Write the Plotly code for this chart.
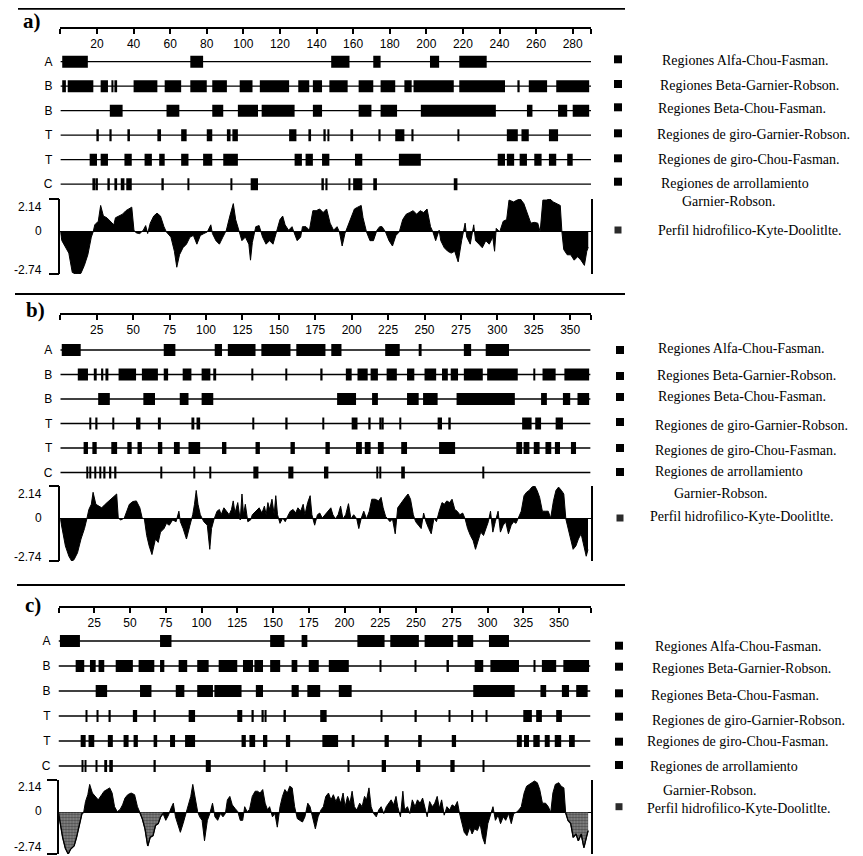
import plotly.graph_objects as go

# The page body keeps the browser's default 8 px margin, so the figure is made
# 8 px smaller and every reference pixel position is measured from that offset.
PAGE_W, PAGE_H = 863, 856
OFF = 8
W, H = PAGE_W - OFF, PAGE_H - OFF

# ---------------- data ----------------
ROW_LETTERS = ["A", "B", "B", "T", "T", "C"]
LEGEND_LINES = [
    "Regiones Alfa-Chou-Fasman.",
    "Regiones Beta-Garnier-Robson.",
    "Regiones Beta-Chou-Fasman.",
    "Regiones de giro-Garnier-Robson.",
    "Regiones de giro-Chou-Fasman.",
    "Regiones de arrollamiento",
    "Garnier-Robson.",
    "Perfil hidrofilico-Kyte-Doolitlte.",
]
PROFILE_TICKS = [2.14, 0, -2.74]

# ----- panel a -----
A_LENGTH = 290
A_TICKS = [20, 40, 60, 80, 100, 120, 140, 160, 180, 200, 220, 240, 260, 280]
A_ALFA_CF = [(1, 15), (71, 78), (148, 158), (171, 175), (202, 207), (218, 233)]
A_BETA_GR = [(1, 3), (4, 18), (22, 26), (28, 29), (30, 31), (40, 53), (57, 66), (71, 80), (83, 91),
             (98, 105), (109, 125), (130, 136), (138, 143), (147, 157), (163, 171), (175, 183),
             (188, 192), (193, 215), (218, 243), (250, 251), (256, 266), (271, 289)]
A_BETA_CF = [(27, 34), (58, 65), (83, 89), (97, 108), (110, 128), (138, 143), (163, 170), (175, 184),
             (197, 238), (255, 258), (272, 277), (280, 289)]
A_GIRO_GR = [(20, 21), (27, 28), (37, 38), (53, 55), (66, 69), (80, 83), (91, 93), (94, 97), (125, 129),
             (136, 137), (144, 145), (146, 147), (159, 160), (174, 175), (183, 188), (192, 193),
             (217, 218), (244, 250), (252, 256), (267, 272)]
A_GIRO_CF = [(16, 20), (22, 26), (35, 39), (46, 50), (54, 57), (66, 70), (78, 83), (89, 97), (128, 132),
             (134, 138), (143, 147), (161, 165), (185, 197), (239, 243), (244, 248), (251, 255),
             (259, 263), (267, 271), (277, 280)]
A_ARROLL_GR = [(18, 19), (19.5, 20.5), (26, 27), (30, 31), (33, 35), (36, 39), (55.5, 56.5), (69.5, 70.5),
               (93, 94), (104, 108), (143, 144), (145, 146), (157.5, 158.5), (160, 165), (171, 173),
               (215, 217)]
A_PROFILE = [
    (0, 0), (0.8, -0.57), (4.6, -1.38), (6.5, -2.64), (8.4, -2.74), (11.2, -2.7), (13.1, -2.18),
    (15.0, -1.49), (16.9, -0.34), (17.9, 0), (18.8, 0.46), (20.7, 0.69), (22.0, 1.72), (23.5, 1.03),
    (25.4, 0.92), (27.3, 0.69), (29.2, 0.46), (30.1, 0.92), (32.0, 1.03), (33.9, 1.15), (35.8, 1.38),
    (37.7, 1.49), (39.0, 1.61), (40.2, 0.11), (41.5, -0.07), (43.4, -0.11), (45.3, 0.11), (46.6, 0.41),
    (47.7, -0.11), (49.1, 0.57), (51.0, 1.03), (52.8, 1.22), (54.7, 1.03), (56.6, 0.34), (57.9, 0),
    (60.4, -0.34), (62.3, -1.26), (63.6, -2.30), (65.1, -1.49), (67.0, -1.03), (68.9, -0.80),
    (70.8, -0.34), (72.7, -0.23), (74.6, -0.80), (76.5, -0.23), (78.4, -0.11), (80.3, 0), (82.2, 0.46),
    (83.1, -0.11), (85.0, -0.57), (86.9, -0.80), (88.8, -0.34), (90.7, 0.11), (92.6, 1.03), (94.5, 1.84),
    (95.8, 0.80), (97.3, 0.11), (99.2, -0.57), (101.1, -0.34), (103.0, -0.80), (103.9, -1.84),
    (104.9, -0.69), (106.8, 0.34), (108.6, 0.41), (110.5, -0.34), (112.4, -0.80), (114.3, -0.57),
    (116.2, -0.80), (118.1, 0), (120.0, 0.80), (121.5, 1.03), (122.8, 0.46), (124.7, 0.11),
    (126.6, 0.34), (127.6, 0), (129.4, -0.57), (131.3, -0.34), (132.3, 0.34), (134.2, 0.34),
    (136.1, 0.11), (138.0, 1.38), (139.8, 1.38), (141.7, 1.49), (143.6, 1.26), (145.5, 1.49),
    (147.4, 0.57), (149.3, 0.11), (151.2, 0.34), (152.5, 0), (154.0, -0.92), (155.5, -0.11),
    (156.9, 0.34), (158.8, 0.92), (160.7, 1.49), (162.5, 1.61), (164.4, 1.72), (165.4, 0.92),
    (167.3, 0), (169.2, -0.57), (171.1, -0.57), (173.0, 0.11), (174.5, 0.34), (175.8, 0.34),
    (177.7, 0), (179.6, -0.57), (181.5, -0.92), (183.4, -0.23), (185.2, 0), (187.1, 0.80),
    (189.0, 1.15), (190.9, 1.26), (192.8, 1.38), (194.7, 1.15), (196.6, 1.38), (198.5, 1.26),
    (200.4, 1.49), (202.3, 0.34), (203.6, 0), (205.1, -0.57), (207.0, 0.11), (207.9, -0.57),
    (209.8, -1.03), (211.7, -1.26), (213.6, -1.38), (215.5, -1.26), (217.4, -1.95), (219.3, -0.57),
    (221.2, 0.57), (222.1, -0.34), (224.0, -0.80), (225.9, 0.46), (226.9, -0.57), (228.8, -0.80),
    (230.6, -1.03), (232.5, -0.57), (234.4, -0.80), (236.3, -0.34), (237.3, -1.26), (238.2, 0.23),
    (240.1, 0), (242.0, 0.69), (243.9, 0.80), (245.2, 2.07), (247.7, 1.95), (249.6, 2.07),
    (251.4, 2.14), (253.3, 1.84), (255.2, 1.26), (257.1, 0.57), (259.0, 0.62), (260.9, 0.57),
    (262.2, 0), (263.7, 2.07), (265.6, 2.07), (267.5, 2.14), (269.4, 1.95), (271.3, 1.84),
    (273.2, 1.72), (274.1, 0), (275.1, -1.15), (277.0, -1.49), (278.9, -1.49), (280.8, -1.84),
    (282.7, -1.61), (284.5, -1.84), (286.4, -2.18), (287.7, -1.26), (288.5, -1.0),
]

# ----- panel b -----
B_LENGTH = 364
B_TICKS = [25, 50, 75, 100, 125, 150, 175, 200, 225, 250, 275, 300, 325, 350]
B_ALFA_CF = [(1, 14), (71, 79), (106, 111), (115, 134), (138, 158), (162, 182), (186, 193), (223, 233),
             (246, 248), (277, 282), (292, 308)]
B_BETA_GR = [(12, 19), (23, 25), (28, 29.5), (31, 33), (40, 52), (56, 67), (71, 74), (84, 90), (97, 103),
             (105, 107), (131.5, 132.5), (154.5, 155.5), (179, 180), (196, 200), (204, 211), (213, 218),
             (224, 231), (238, 243), (250, 258), (262, 266), (268, 273), (277, 290), (293, 314),
             (325, 326), (331, 340), (346, 363)]
B_BETA_CF = [(26, 34), (57, 65), (82, 88), (97, 105), (190, 203), (214, 218), (238, 246), (249, 259),
             (272, 312), (330, 334), (345, 350), (355, 363)]
B_GIRO_GR = [(20, 21), (24.5, 25.5), (36, 37), (52, 55), (67, 69), (90, 92), (93.5, 96), (132, 133),
             (155, 156), (180, 181), (200, 204), (212, 213), (219, 220), (221, 222), (233, 234),
             (259, 262), (267, 268), (317, 323.5), (326, 330), (340, 345)]
B_GIRO_CF = [(16, 19), (22, 25), (35, 39), (46, 49), (53, 56), (67, 70), (78, 82), (88, 96), (111, 114),
             (134, 137), (158, 161), (182, 185), (203, 207), (209, 213), (218, 222), (234, 238),
             (260, 271), (313, 317), (318, 322), (325, 329), (333, 337), (339.5, 343), (350.5, 354)]
B_ARROLL_GR = [(18, 19), (20, 21), (23.5, 24.5), (27, 28), (30, 31), (33.5, 35), (37, 38.5), (69, 70),
               (91.5, 92.5), (102.5, 103.5), (132.5, 136), (156.5, 160), (181, 184), (217, 218),
               (219, 220), (234, 236.5), (290, 291)]
B_PROFILE = [
    (0, 0), (1.1, -0.63), (3.5, -1.76), (5.9, -2.43), (7.8, -2.74), (9.4, -2.66), (11.8, -2.21),
    (14.2, -1.31), (16.6, -0.63), (18.2, 0), (19.6, 0.61), (21.3, 0.95), (22.5, 1.73), (24.4, 0.95),
    (26.8, 0.83), (28.4, 0.72), (30.8, 0.95), (33.2, 1.17), (35.6, 1.40), (37.2, 1.51), (38.7, 1.62),
    (39.8, 0.05), (41.5, -0.07), (43.9, 0.05), (45.5, 0.50), (47.4, 0.95), (49.8, 1.13), (52.2, 1.17),
    (54.6, 0.72), (56.2, 0.05), (57.7, 0), (59.3, -1.08), (61.0, -1.76), (62.9, -2.32), (65.3, -1.31),
    (67.2, -1.53), (68.8, -0.86), (71.2, -0.63), (72.9, -0.29), (74.8, -0.41), (77.1, -0.07),
    (79.5, -0.18), (81.4, 0.50), (82.4, -0.18), (84.3, -0.63), (86.6, -1.31), (89.0, -0.41),
    (90.9, 0.27), (92.1, 0.95), (93.3, 1.85), (94.5, 0.95), (96.1, 0.27), (98.5, -0.18), (100.9, -0.41),
    (102.6, -1.98), (103.8, -0.63), (105.6, 0), (107.6, 0.50), (109.2, 0.61), (110.4, 0.27),
    (112.3, 0.72), (114.0, 0.50), (115.9, 0.27), (117.5, 0.61), (118.7, 1.17), (119.9, 0.38),
    (121.8, 1.06), (123.5, -0.07), (124.7, 1.62), (125.8, 0.27), (127.0, 0.95), (128.7, -0.18),
    (130.6, -0.07), (131.8, 0.27), (134.2, 0.50), (136.5, 0.72), (138.4, 0.38), (140.1, 0.83),
    (141.3, 0.27), (142.5, 1.06), (143.7, 0.61), (145.3, 1.28), (146.8, 0.27), (147.9, 1.51),
    (149.1, 0.27), (150.8, -0.29), (152.7, 0.05), (154.4, -0.18), (156.0, 0.16), (157.9, 0.50),
    (159.8, 0.61), (161.5, 0.38), (163.1, 0.72), (165.0, 0.50), (166.7, 0.95), (167.9, 0.27),
    (169.8, 1.06), (171.5, 1.51), (172.7, 0.27), (174.6, -0.41), (176.5, 0.27), (178.1, 0.38),
    (179.8, 0.05), (181.7, 0.27), (184.1, 0.50), (185.7, 0.72), (187.1, 0.27), (188.8, 0),
    (190.7, 0.27), (192.4, 0.83), (194.0, 0), (195.9, 0.27), (197.8, 0.99), (199.5, 0), (201.4, 0.27),
    (203.5, 0), (204.9, -0.63), (206.6, 0.05), (208.3, 0.50), (210.2, 0), (212.1, 0.50), (213.8, 1.28),
    (216.1, 1.28), (218.5, 1.17), (220.2, 1.40), (221.6, 0.72), (223.3, 0.16), (224.9, 0),
    (226.3, -0.18), (228.0, 0), (229.9, -0.97), (231.6, 0.72), (233.2, 0.95), (235.1, 1.17),
    (236.8, 1.40), (238.7, 1.62), (240.4, 1.28), (242.3, 0.27), (243.9, -0.18), (245.8, -0.41),
    (247.7, -0.63), (249.4, 0.38), (251.0, -0.18), (252.9, -0.63), (254.6, -0.97), (256.5, 0.05),
    (258.2, -0.18), (260.1, 0.50), (262.0, 1.06), (263.6, 0.95), (265.3, 1.17), (267.2, 1.06),
    (268.9, 1.28), (270.8, 0.61), (272.4, 0.50), (274.3, 0.27), (276.2, 0.38), (277.9, 0),
    (279.6, -0.63), (281.5, -1.08), (283.4, -1.42), (285.0, -1.98), (286.7, -1.42), (288.6, -0.86),
    (290.5, -1.08), (292.2, -0.63), (293.8, -0.18), (295.3, 0.50), (296.9, -0.86), (298.6, -0.18),
    (300.5, 0.50), (302.1, -0.86), (304.0, -0.41), (305.7, -0.18), (307.6, -0.97), (309.5, -0.41),
    (311.2, -0.18), (312.8, -0.29), (314.7, 0.16), (316.4, 0.50), (318.3, 1.51), (320.0, 1.73),
    (321.8, 1.85), (323.7, 2.07), (325.7, 2.14), (327.3, 1.85), (329.0, 1.40), (330.9, 0.50),
    (333.0, 0.50), (334.9, 0.50), (336.6, 0.05), (338.5, 1.17), (340.2, 1.85), (342.0, 2.07),
    (344.0, 1.85), (345.6, 1.62), (347.0, 0), (348.5, -0.63), (350.4, -1.53), (352.0, -1.98),
    (353.9, -1.76), (355.6, -1.31), (357.5, -0.97), (359.4, -1.76), (361.0, -2.43), (362.2, -2.0),
]

# ----- panel c -----
C_LENGTH = 372
C_TICKS = [25, 50, 75, 100, 125, 150, 175, 200, 225, 250, 275, 300, 325, 350]
C_ALFA_CF = [(1, 15), (71, 79), (148, 158), (170, 174), (209, 228), (232, 252), (256, 276), (279, 290),
             (301, 315)]
C_BETA_GR = [(12, 18), (22, 26), (28, 32), (40, 52), (56, 67), (71, 74), (84, 90), (97, 105), (112, 125),
             (129, 136), (137, 143), (148, 155), (163, 167), (175, 182), (189, 203), (224.5, 225.5),
             (249, 250), (272, 273), (291, 297), (302, 322), (332.5, 333.5), (338, 348), (353, 371)]
C_BETA_CF = [(26, 34), (57, 65), (82, 88), (97, 108), (109, 128), (138, 143), (163, 168), (174, 183),
             (196, 205), (290, 319), (337, 341), (352, 357), (362, 370)]
C_GIRO_GR = [(19, 20), (27, 28), (35.5, 36.5), (52, 55), (67, 68), (91, 95.5), (125, 128.5),
             (135.5, 136.5), (142.5, 143.5), (144.5, 145.5), (158, 159), (183, 187.5), (225.5, 226.5),
             (249.5, 250.5), (273, 274), (288.5, 290), (299, 300), (325, 331), (334, 338), (348, 352)]
C_GIRO_CF = [(15.5, 19), (21, 25), (34.5, 38), (45.5, 49), (52.5, 55.5), (66.5, 69), (78, 81.5),
             (88.5, 95.5), (128, 131), (133.5, 137.5), (143, 146), (159, 162), (184.5, 195.5), (205, 207),
             (228, 231), (251.5, 254), (275, 278), (320.5, 324), (325.5, 329), (332, 336.5), (340, 343.5),
             (347, 351.5), (357, 361)]
C_ARROLL_GR = [(16.5, 17.5), (18.5, 19.5), (26, 27), (32, 34), (35.5, 38), (67, 68), (103, 106.5),
               (143.5, 144.5), (159, 160), (202.5, 203.5), (226, 229), (250, 253), (274, 277),
               (296.5, 297.5)]
C_PROFILE = [
    (0, 0), (1.2, -0.74), (2.9, -1.64), (4.8, -2.36), (6.8, -2.74), (8.4, -2.43), (10.9, -2.21),
    (12.6, -1.64), (14.5, -0.74), (16.4, -0.07), (17.6, 0), (18.9, 0.72), (20.5, 1.17), (21.8, 1.85),
    (23.7, 1.28), (25.4, 1.06), (27.8, 0.83), (30.2, 1.17), (31.9, 1.40), (33.9, 1.51), (35.8, 1.62),
    (37.5, 1.28), (39.2, 0.38), (41.1, 0.05), (43.1, 0.20), (44.8, 0.50), (46.5, 0.95), (48.4, 1.17),
    (50.8, 1.28), (53.2, 1.17), (55.2, 0.38), (56.9, 0), (58.6, -0.41), (60.5, -1.08), (62.4, -2.21),
    (64.1, -1.64), (66.1, -1.53), (67.8, -0.86), (69.7, -0.74), (71.4, -0.29), (73.1, -0.07),
    (75.0, -0.52), (76.9, -0.18), (78.6, 0.27), (80.3, 0.61), (81.8, -0.29), (83.5, -0.86),
    (85.2, -1.31), (87.1, -0.74), (89.1, -0.07), (90.8, 0.50), (92.5, 1.06), (93.9, 1.85), (95.6, 0.83),
    (97.3, 0.05), (98.7, -0.29), (100.4, -0.52), (102.1, -1.87), (104.1, -0.52), (105.8, -0.07),
    (107.7, 0.61), (109.4, -0.29), (111.3, -0.52), (113.3, -0.07), (115.0, -0.29), (116.7, -0.07),
    (118.1, 0.83), (119.8, 1.06), (121.5, 0.50), (123.4, 0.27), (125.4, 0.05), (127.1, -0.52),
    (128.8, -0.52), (130.2, 0.38), (131.9, 0.05), (133.6, 0.20), (135.5, 1.06), (137.5, 1.40),
    (139.2, 1.40), (140.9, 1.28), (142.8, 1.51), (144.5, 0.61), (146.2, 0.16), (147.6, 0.38),
    (149.6, -0.29), (151.3, -0.07), (153.0, -0.97), (154.9, 0.38), (156.6, 1.06), (158.3, 1.51),
    (160.0, 1.28), (161.7, 1.73), (163.4, 1.62), (165.1, 0.38), (167.0, -0.41), (168.7, -0.52),
    (170.6, -0.63), (172.3, -0.29), (174.3, 0.61), (175.9, 0.38), (177.9, -0.52), (179.6, -1.08),
    (181.5, -0.29), (183.5, 0.16), (185.2, 0.38), (186.9, 1.06), (188.8, 1.28), (190.5, 0.83),
    (192.2, 1.17), (193.9, 0.72), (195.6, 1.06), (197.3, 0.61), (199.0, 1.28), (200.4, 0.38),
    (202.1, 1.06), (203.8, 0.61), (205.3, 1.40), (206.9, 0.38), (208.6, 0.16), (210.6, 0.61),
    (212.3, 0.38), (214.0, 1.06), (215.4, 0.83), (217.1, 1.62), (218.6, 0.38), (220.3, -0.07),
    (222.2, -0.29), (223.9, 0.16), (225.6, 0.38), (227.5, -0.07), (229.2, 0.38), (230.9, 0.61),
    (232.6, 0.83), (234.3, 0.50), (236.0, 1.06), (237.2, 0.38), (239.1, -0.29), (240.8, 1.40),
    (242.0, 0.16), (244.0, 0.38), (245.7, -0.07), (247.4, 0.83), (249.3, 0.38), (251.0, 0.83),
    (252.9, 0.61), (254.6, 0.95), (256.1, 0.38), (257.8, -0.29), (259.5, 0.72), (261.4, 0.38),
    (263.1, 0.61), (264.8, 1.06), (266.3, 0.27), (267.9, 0.83), (269.7, -0.18), (271.6, 0.38),
    (273.5, 0.16), (275.2, 0.50), (277.2, 0.38), (278.9, 0.72), (280.3, 0), (282.0, -0.74),
    (283.7, -1.31), (285.6, -1.53), (287.6, -0.97), (289.2, -1.42), (290.9, -1.08), (292.9, -1.19),
    (294.8, -0.74), (296.5, -1.64), (298.2, -2.09), (300.2, -0.74), (301.8, -0.29), (303.8, 0.38),
    (305.5, -0.52), (307.4, -0.18), (309.1, -0.74), (311.0, -0.29), (312.7, -0.52), (314.7, -0.07),
    (316.6, -0.74), (318.3, -0.07), (320.0, 0), (321.9, 0.16), (323.6, 0.38), (325.6, 1.28),
    (327.3, 1.73), (329.2, 1.85), (331.1, 1.96), (332.8, 2.07), (334.8, 1.96), (336.5, 1.51),
    (338.4, 0.61), (340.6, 0.61), (342.5, 0.38), (344.2, 0), (345.7, 1.28), (347.4, 1.85),
    (349.8, 1.96), (351.5, 1.73), (353.4, 1.62), (354.6, 0), (356.3, -0.52), (358.2, -0.74),
    (359.9, -1.64), (361.9, -1.42), (363.5, -1.87), (365.5, -1.42), (367.4, -2.32), (369.1, -1.64),
    (370.3, -1.2),
]

# ---------------- layout / style ----------------
SANS = "Liberation Sans, Arial, sans-serif"
SERIF = "Liberation Serif, Times New Roman, serif"

PANELS = [
    dict(letter="a)", letter_xy=(32, 21), sep=(18, 625, 8.8),
         length=A_LENGTH, ticks=A_TICKS, x0=60.4, x1=591.0, axis_y=28.3,
         row0=61.7, step=24.5, prof=(199, 274), prof_lbl=(207, 230.5, 270),
         tracks=[A_ALFA_CF, A_BETA_GR, A_BETA_CF, A_GIRO_GR, A_GIRO_CF, A_ARROLL_GR],
         profile=A_PROFILE, stipple=[],
         sq=[(618, 59.3), (618, 84), (618, 107.3), (618, 133.3), (618, 158.3), (618, 181.7), (618, 230)],
         txt=[(660, 60), (658, 85), (656, 108.3), (655, 134.3), (656, 160), (659, 183.3), (680, 202), (656, 230)]),
    dict(letter="b)", letter_xy=(35, 310), sep=(15, 625, 294),
         length=B_LENGTH, ticks=B_TICKS, x0=60.3, x1=590.6, axis_y=314.3,
         row0=350, step=24.5, prof=(486, 561), prof_lbl=(494, 518.3, 557),
         tracks=[B_ALFA_CF, B_BETA_GR, B_BETA_CF, B_GIRO_GR, B_GIRO_CF, B_ARROLL_GR],
         profile=B_PROFILE, stipple=[],
         sq=[(620, 350), (620, 376), (620, 397), (620, 422), (620, 448), (620, 472), (620, 518)],
         txt=[(656, 348.3), (655, 375.7), (656, 396.7), (653, 425), (653, 450), (653, 471.7), (672, 493.3), (648, 516.7)]),
    dict(letter="c)", letter_xy=(33, 605), sep=(17, 625, 585),
         length=C_LENGTH, ticks=C_TICKS, x0=58.5, x1=590.5, axis_y=607.3,
         row0=641, step=25, prof=(780, 854), prof_lbl=(787, 811, 847),
         tracks=[C_ALFA_CF, C_BETA_GR, C_BETA_CF, C_GIRO_GR, C_GIRO_CF, C_ARROLL_GR],
         profile=C_PROFILE, stipple=[(0, 17.6), (56.9, 73.1), (354.6, 371)],
         sq=[(619, 645.7), (619, 666.7), (619, 693.3), (619, 716.7), (619, 741.7), (619, 765), (619, 806.7)],
         txt=[(653, 646.7), (650, 668.3), (649, 695), (650, 720), (645, 741.7), (648, 766.7), (661, 790), (645, 808.3)]),
]


def fx(px):
    return (px - OFF) / W


def fy(py):
    return 1 - (py - OFF) / H


def axname(kind, i):
    return f"{kind}axis" + ("" if i == 1 else str(i))


def axref(kind, i):
    return kind + ("" if i == 1 else str(i))


fig = go.Figure()
layout_axes = {}
shapes = []
annotations = []

for p_i, P in enumerate(PANELS):
    ti = 2 * p_i + 1       # tracks axes index
    pi = 2 * p_i + 2       # profile axes index
    L = P["length"]
    xdom = [fx(P["x0"]), fx(P["x1"])]
    step = P["step"]
    top_px = P["row0"] - step / 2
    bot_px = P["row0"] + 5.5 * step

    # top scale axis (tracks x axis)
    tv = [0] + P["ticks"] + [L]
    tt = [""] + [str(t) for t in P["ticks"]] + [""]
    layout_axes[axname("x", ti)] = dict(
        domain=xdom, range=[0, L], anchor="free", position=fy(P["axis_y"]), side="bottom",
        showline=True, linecolor="black", linewidth=1.5, ticks="outside", ticklen=5, tickwidth=1.5,
        tickcolor="black", tickvals=tv, ticktext=tt, tickangle=0,
        tickfont=dict(family=SANS, size=12, color="black"), showgrid=False, zeroline=False,
        fixedrange=True,
    )
    layout_axes[axname("y", ti)] = dict(
        domain=[fy(bot_px), fy(top_px)], range=[5.5, -0.5], anchor=axref("x", ti),
        tickvals=list(range(6)), ticktext=ROW_LETTERS, ticks="", showline=False, showgrid=False,
        zeroline=False, ticklabelstandoff=7,
        tickfont=dict(family=SANS, size=12, color="black"), fixedrange=True,
    )
    # profile axes
    layout_axes[axname("x", pi)] = dict(domain=xdom, range=[0, L], anchor=axref("y", pi), visible=False,
                                        fixedrange=True)
    layout_axes[axname("y", pi)] = dict(
        domain=[fy(P["prof"][1]), fy(P["prof"][0])], range=[PROFILE_TICKS[2], PROFILE_TICKS[0]],
        anchor=axref("x", pi), showline=True, mirror=True, linecolor="black", linewidth=1.5,
        ticks="outside", ticklen=10, tickwidth=1.5, tickcolor="black",
        tickvals=[PROFILE_TICKS[2], PROFILE_TICKS[0]], ticktext=["", ""], showgrid=False,
        zeroline=True, zerolinecolor="black", zerolinewidth=1.3, fixedrange=True,
    )

    # track lines and blocks
    for r, segs in enumerate(P["tracks"]):
        fig.add_trace(go.Scatter(
            x=[0, L], y=[r, r], mode="lines", line=dict(color="black", width=1.3),
            xaxis=axref("x", ti), yaxis=axref("y", ti), hoverinfo="skip", showlegend=False,
        ))
        fig.add_trace(go.Bar(
            orientation="h", y=[r] * len(segs), base=[s for s, e in segs], x=[e - s for s, e in segs],
            width=12 / step, marker=dict(color="black", line=dict(width=0)),
            xaxis=axref("x", ti), yaxis=axref("y", ti), hoverinfo="skip", showlegend=False,
        ))

    # hydrophilicity profile
    pos = [p for p, v in P["profile"]]
    val = [v for p, v in P["profile"]]
    fig.add_trace(go.Scatter(
        x=pos, y=val, mode="lines", fill="tozeroy", fillcolor="black", line=dict(color="black", width=1),
        xaxis=axref("x", pi), yaxis=axref("y", pi), hoverinfo="skip", showlegend=False,
    ))
    # stippled (grey dotted) parts of the profile
    for a, b in P["stipple"]:
        sub = [(p, v) for p, v in P["profile"] if a <= p <= b]
        fig.add_trace(go.Scatter(
            x=[p for p, v in sub], y=[v for p, v in sub], mode="lines", fill="tozeroy",
            fillcolor="#6e6e6e",
            fillpattern=dict(shape=".", bgcolor="#8a8a8a", fgcolor="#111111", size=3, solidity=0.5),
            line=dict(color="black", width=1.4),
            xaxis=axref("x", pi), yaxis=axref("y", pi), hoverinfo="skip", showlegend=False,
        ))

    # profile labels
    for v, ypx in zip(PROFILE_TICKS, P["prof_lbl"]):
        annotations.append(dict(
            x=fx(44), y=fy(ypx), xref="paper", yref="paper", text=f"{v:g}", showarrow=False,
            xanchor="right", yanchor="middle", font=dict(family=SANS, size=12, color="black"),
        ))

    # separator and panel letter
    sx0, sx1, sy = P["sep"]
    shapes.append(dict(type="line", xref="paper", yref="paper", x0=fx(sx0), x1=fx(sx1), y0=fy(sy), y1=fy(sy),
                       line=dict(color="black", width=2)))
    annotations.append(dict(
        x=fx(P["letter_xy"][0]), y=fy(P["letter_xy"][1]), xref="paper", yref="paper",
        text=f"<b>{P['letter']}</b>", showarrow=False, xanchor="center", yanchor="middle",
        font=dict(family=SERIF, size=21, color="black"),
    ))

    # legend squares and texts
    for k, (cx, cy) in enumerate(P["sq"]):
        s = 4 if k < 6 else 3.5
        shapes.append(dict(type="rect", xref="paper", yref="paper", x0=fx(cx - s), x1=fx(cx + s),
                           y0=fy(cy + s), y1=fy(cy - s), fillcolor="black" if k < 6 else "#2b2b2b",
                           line=dict(width=0)))
    for text, (tx, tyy) in zip(LEGEND_LINES, P["txt"]):
        annotations.append(dict(
            x=fx(tx), y=fy(tyy), xref="paper", yref="paper", text=text, showarrow=False,
            xanchor="left", yanchor="middle", font=dict(family=SERIF, size=14, color="black"),
        ))

fig.update_layout(
    width=W, height=H, autosize=False, margin=dict(l=0, r=0, t=0, b=0),
    paper_bgcolor="white", plot_bgcolor="white", showlegend=False, barmode="overlay",
    shapes=shapes, annotations=annotations, **layout_axes,
)

fig.write_html("out.html")
